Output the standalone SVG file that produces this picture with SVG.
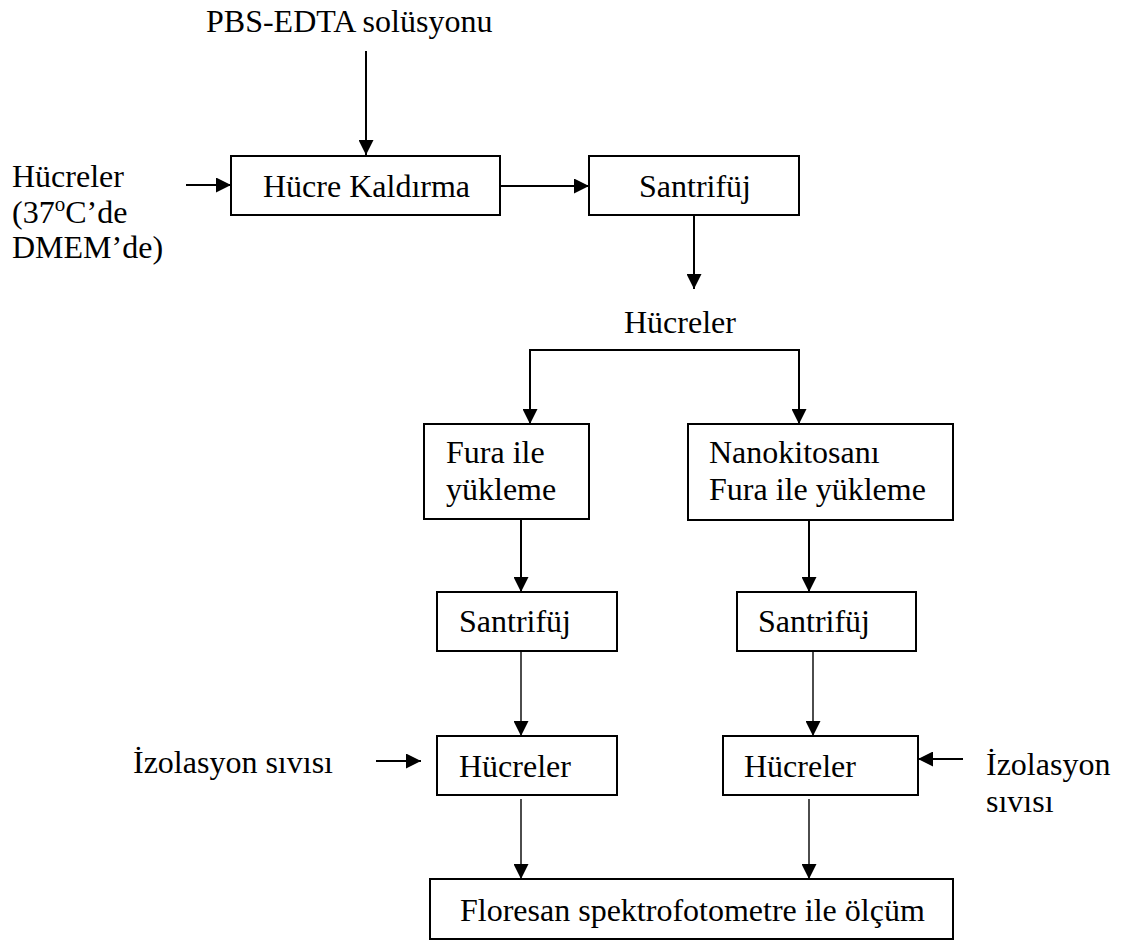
<svg xmlns="http://www.w3.org/2000/svg" width="1124" height="940" viewBox="0 0 1124 940">
<style>
text{font-family:"Liberation Serif","Times New Roman",serif;font-size:32px;fill:#000}
.box{fill:#fff;stroke:#000;stroke-width:2}
.c{fill:none;stroke:#000;stroke-width:2;marker-end:url(#ah)}
.t{stroke-width:1.4}
</style>
<defs>
<marker id="ah" markerUnits="userSpaceOnUse" markerWidth="15" markerHeight="15" refX="15" refY="7.5" orient="auto">
<path d="M0,0 L15,7.5 L0,15 z" fill="#000"/>
</marker>
</defs>
<rect width="1124" height="940" fill="#fff"/>
<g id="connectors">
<path class="c" d="M366,51 V155"/>
<path class="c" d="M186,185 H231"/>
<path class="c" d="M500,186 H589"/>
<path class="c" d="M694,215 V289"/>
<path class="c" d="M665,350 H530 V424"/>
<path class="c" d="M665,350 H799 V424"/>
<path class="c" d="M521,519 V592"/>
<path class="c" d="M809,520 V592"/>
<path class="c t" d="M521,646 V736"/>
<path class="c t" d="M813,646 V736"/>
<path class="c" d="M376,761 H421"/>
<path class="c" d="M963,759 H918"/>
<path class="c t" d="M521,799 V879"/>
<path class="c t" d="M809,799 V879"/>
</g>
<g id="pbs"><text x="206" y="32">PBS-EDTA solüsyonu</text></g>
<g id="hucreler-in">
<text x="12" y="187">Hücreler</text>
<text x="12" y="223">(37<tspan font-size="21" dy="-12">o</tspan><tspan dy="12">C’de</tspan></text>
<text x="12" y="258">DMEM’de)</text>
</g>
<g id="hucre-kaldirma"><rect class="box" x="231" y="156" width="269" height="59"/><text x="263" y="197">Hücre Kaldırma</text></g>
<g id="santrifuj1"><rect class="box" x="589" y="156" width="210" height="59"/><text x="639" y="197">Santrifüj</text></g>
<g id="hucreler-mid"><text x="624" y="333">Hücreler</text></g>
<g id="fura"><rect class="box" x="424" y="424" width="165" height="95"/><text x="446" y="463">Fura ile</text><text x="446" y="500">yükleme</text></g>
<g id="nano"><rect class="box" x="688" y="424" width="265" height="96"/><text x="709" y="463">Nanokitosanı</text><text x="709" y="500">Fura ile yükleme</text></g>
<g id="santrifuj-l"><rect class="box" x="437" y="592" width="180" height="59"/><text x="459" y="632">Santrifüj</text></g>
<g id="santrifuj-r"><rect class="box" x="737" y="592" width="179" height="59"/><text x="758" y="632">Santrifüj</text></g>
<g id="izolasyon-l"><text x="133" y="773">İzolasyon sıvısı</text></g>
<g id="hucreler-l"><rect class="box" x="437" y="736" width="180" height="59"/><text x="459" y="777">Hücreler</text></g>
<g id="hucreler-r"><rect class="box" x="723" y="736" width="195" height="59"/><text x="744" y="777">Hücreler</text></g>
<g id="izolasyon-r"><text x="986" y="775">İzolasyon</text><text x="986" y="812">sıvısı</text></g>
<g id="floresan"><rect class="box" x="430" y="879" width="523" height="60"/><text x="460" y="921">Floresan spektrofotometre ile ölçüm</text></g>
</svg>
